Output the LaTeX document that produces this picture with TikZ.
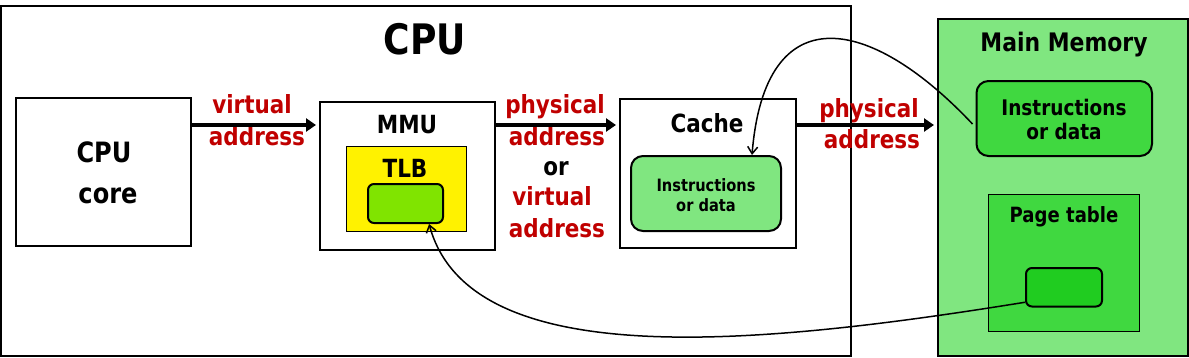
\documentclass[tikz,border=0pt]{standalone}
\usepackage{fontspec}
\setmainfont{DejaVu Sans}[FakeStretch=0.86]
\usepackage{xcolor}
\usetikzlibrary{arrows.meta}
\definecolor{addrred}{HTML}{C00000}
\definecolor{lightgrn}{HTML}{80E680}
\definecolor{midgrn}{HTML}{40D840}
\definecolor{deepgrn}{HTML}{20CC20}
\definecolor{limegrn}{HTML}{80E400}
\newcommand{\fs}[1]{\fontsize{#1}{#1}\selectfont\bfseries}

\begin{document}
\begin{tikzpicture}[x=1pt,y=-1pt,
  blk/.style={draw,line width=2pt,inner sep=0pt},
  thinblk/.style={draw,line width=1pt,inner sep=0pt},
  rblk/.style={draw,line width=2pt,inner sep=0pt,rounded corners=#1},
  lbl/.style={anchor=base,inner sep=0pt},
  addr/.style={lbl,text=addrred,font=\fs{25}},
  bus/.style={line width=4pt,-{Triangle[length=10pt,width=13pt]},shorten >=3pt},
  link/.style={line width=1.5pt,-{Straight Barb[length=7pt,width=10pt]}}]
  \useasboundingbox (0,0) rectangle (1189,357);
  % boxes
  \node[blk,minimum width=850,minimum height=350] (cpu) at (426,181) {};
  \node[blk,minimum width=175,minimum height=148] (core) at (103.5,172) {};
  \node[blk,minimum width=175,minimum height=148] (mmu) at (407.5,176) {};
  \node[thinblk,fill=yellow,minimum width=120,minimum height=85] (tlb) at (406,188.5) {};
  \node[rblk=6pt,fill=limegrn,minimum width=75,minimum height=39] (tlbin) at (405.5,203.5) {};
  \node[blk,minimum width=175.5,minimum height=149] (cache) at (707.75,173.5) {};
  \node[rblk=12pt,fill=lightgrn,minimum width=150,minimum height=75] (cachein) at (706,193.5) {};
  \node[blk,fill=lightgrn,minimum width=250,minimum height=337] (mem) at (1063,187.5) {};
  \node[rblk=12pt,fill=midgrn,minimum width=175.5,minimum height=75] (meminst) at (1064.25,118.5) {};
  \node[thinblk,fill=midgrn,minimum width=151.5,minimum height=137.5] (pgtab) at (1063.75,262.75) {};
  \node[rblk=6pt,fill=deepgrn,minimum width=76,minimum height=38.5] (pgin) at (1064,287.25) {};
  % texts
  \node[lbl,font=\fs{42}] (cputitle) at (425,54) {CPU};
  \node[lbl,font=\fs{28}] (corea) at (104,162) {CPU}; \node[lbl,font=\fs{28}] (coreb) at (108,203) {core};
  \node[lbl,font=\fs{25}] (mmutxt) at (407,133) {MMU}; \node[lbl,font=\fs{25}] (tlbtxt) at (405,177) {TLB};
  \node[lbl,font=\fs{25}] (cachetxt) at (707,132) {Cache};
  \node[lbl,font=\fs{17}] (cia) at (706,191) {Instructions}; \node[lbl,font=\fs{17}] (cib) at (706,211) {or data};
  \node[lbl,font=\fs{25.5}] (memtxt) at (1064,51) {Main Memory};
  \node[lbl,font=\fs{21.5}] (mia) at (1064,115) {Instructions}; \node[lbl,font=\fs{21.5}] (mib) at (1064,139) {or data};
  \node[lbl,font=\fs{21}] (pgtxt) at (1064,222) {Page table};
  % address labels
  \node[addr] (va1) at (252,113) {virtual}; \node[addr] (va2) at (257,145) {address};
  \node[addr] (pa1) at (555,113) {physical}; \node[addr] (pa2) at (557,145) {address};
  \node[lbl,font=\fs{25}] (ortxt) at (556,175) {or};
  \node[addr] (va3) at (552,205) {virtual}; \node[addr] (va4) at (557,237) {address};
  \node[addr] (pa3) at (869,117) {physical}; \node[addr] (pa4) at (872,148) {address};
  % buses
  \draw[bus] (core.east |- 0,125) -- (mmu.west |- 0,125);
  \draw[bus] (mmu.east |- 0,125) -- (cache.west |- 0,125);
  \draw[bus] (cache.east |- 0,125) -- (mem.west |- 0,125);
  % lookups
  \draw[link] ([shift={(-3pt,-5.5pt)}]meminst.west) .. controls (870,15) and (765,-5) .. ([xshift=46pt]cachein.north);
  \draw[link] ([yshift=-15pt]pgin.west) .. controls (760,345) and (470,375) .. (tlbin.-41);
\end{tikzpicture}
\end{document}
